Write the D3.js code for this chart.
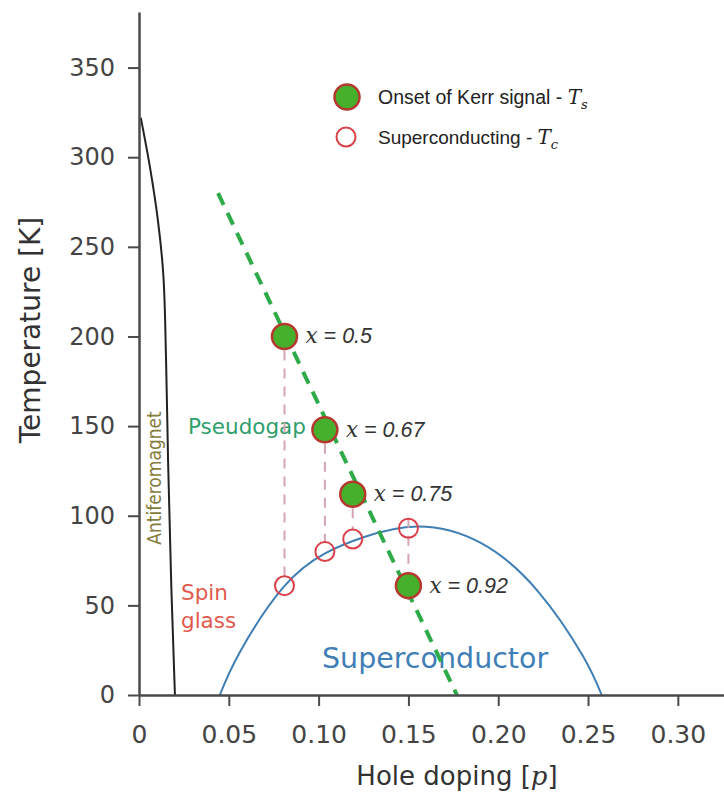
<!DOCTYPE html>
<html lang="en">
<head>
<meta charset="UTF-8">
<title>Phase diagram - Kerr onset</title>
<style>
  html, body { margin: 0; padding: 0; background: #fff; }
  svg { display: block; }
  .tick text { font-family: "DejaVu Sans", sans-serif; fill: #444; }
</style>
</head>
<body>
<svg id="chart" width="724" height="792"></svg>
<script src="https://d3js.org/d3.v7.min.js"></script>
<script>
// --- data ---
const dopingP   = [0.081, 0.1035, 0.119, 0.150];
const kerrT     = [200, 148, 112, 61];
const tcT       = [61, 80, 87, 93];
const xLabels   = ["0.5", "0.67", "0.75", "0.92"];

// superconducting dome (p, T)
const domeP = [0.045, 0.0562, 0.0803, 0.1036, 0.125, 0.155, 0.190, 0.222, 0.247, 0.2576];
const domeT = [0, 24, 60, 79, 88, 94, 85, 58, 22, 0];

// antiferromagnet boundary (p, T), top to bottom
const afmP = [0.001, 0.006, 0.0105, 0.0135, 0.0150, 0.0162, 0.0180, 0.020];
const afmT = [322, 295, 265, 235, 190, 130, 60, 0];

// pseudogap guide line (p, T)
const pgP = [0.044, 0.177];
const pgT = [280, 0];

const xTicks = [0, 0.05, 0.10, 0.15, 0.20, 0.25, 0.30];
const yTicks = [0, 50, 100, 150, 200, 250, 300, 350];

// --- layout ---
const svg = d3.select("#chart");
const x = d3.scaleLinear().domain([0, 0.3257]).range([139, 724]);
const y = d3.scaleLinear().domain([0, 381]).range([695, 12]);
const axisColor = "#4a4a4a";

const pts = (ps, ts) => ps.map((p, i) => [p, ts[i]]);

// dome
svg.append("path")
    .attr("d", d3.line().x(d => x(d[0])).y(d => y(d[1])).curve(d3.curveNatural)(pts(domeP, domeT)))
    .attr("fill", "none").attr("stroke", "#3f7fb6").attr("stroke-width", 2);

// antiferromagnet
svg.append("path")
    .attr("d", d3.line().x(d => x(d[0])).y(d => y(d[1])).curve(d3.curveMonotoneY)(pts(afmP, afmT)))
    .attr("fill", "none").attr("stroke", "#222").attr("stroke-width", 2);

// region labels
svg.append("text").attr("x", 322).attr("y", 668)
    .attr("font-family", "DejaVu Sans, sans-serif").attr("font-size", 28.5)
    .attr("fill", "#3f7fb6").text("Superconductor");

svg.append("text").attr("x", 188).attr("y", 434)
    .attr("font-family", "DejaVu Sans, sans-serif").attr("font-size", 21.5)
    .attr("fill", "#2f9e6c").text("Pseudogap");

const spin = svg.append("text").attr("font-family", "DejaVu Sans, sans-serif")
    .attr("font-size", 21.5).attr("fill", "#df5a4c");
spin.append("tspan").attr("x", 181).attr("y", 600).text("Spin");
spin.append("tspan").attr("x", 181).attr("y", 628).text("glass");

svg.append("text")
    .attr("transform", "translate(161,478) rotate(-90)")
    .attr("text-anchor", "middle")
    .attr("font-family", "DejaVu Sans Condensed, sans-serif").attr("font-size", 19)
    .attr("fill", "#857d3e").text("Antiferomagnet");

// pink dashed connectors between Ts and Tc
svg.selectAll(".conn")
    .data(dopingP)
    .join("line")
    .attr("class", "conn")
    .attr("x1", d => x(d)).attr("x2", d => x(d))
    .attr("y1", (d, i) => y(kerrT[i]) + 14)
    .attr("y2", (d, i) => y(tcT[i]) - 10)
    .attr("stroke", "#d6a5b3").attr("stroke-width", 2)
    .attr("stroke-dasharray", "10,8");

// pseudogap dashed line
svg.append("path")
    .attr("d", d3.line().x(d => x(d[0])).y(d => y(d[1]))(pts(pgP, pgT)))
    .attr("stroke", "#2eaa48").attr("stroke-width", 4)
    .attr("stroke-dasharray", "13,9").attr("fill", "none");

// Tc open circles
svg.selectAll(".tc")
    .data(dopingP)
    .join("circle")
    .attr("class", "tc")
    .attr("cx", d => x(d)).attr("cy", (d, i) => y(tcT[i]))
    .attr("r", 9.5)
    .attr("fill", "none").attr("stroke", "#d9414a").attr("stroke-width", 2);

// Ts filled circles
svg.selectAll(".ts")
    .data(dopingP)
    .join("circle")
    .attr("class", "ts")
    .attr("cx", d => x(d)).attr("cy", (d, i) => y(kerrT[i]))
    .attr("r", 12.5)
    .attr("fill", "#46b02c").attr("stroke", "#b5382e").attr("stroke-width", 2.5);

// point labels
const pl = svg.selectAll(".plab")
    .data(dopingP)
    .join("text")
    .attr("class", "plab")
    .attr("x", d => x(d) + 21)
    .attr("y", (d, i) => y(kerrT[i]) + 7)
    .attr("font-size", 21.5).attr("fill", "#333");
pl.append("tspan").attr("font-family", "DejaVu Serif, serif").attr("font-style", "italic").text("x");
pl.append("tspan").attr("font-family", "Liberation Sans, Arial, sans-serif").attr("font-style", "italic")
    .text((d, i) => " = " + xLabels[i]);

// legend
svg.append("circle").attr("cx", 347).attr("cy", 97).attr("r", 12.5)
    .attr("fill", "#46b02c").attr("stroke", "#b5382e").attr("stroke-width", 2.5);
svg.append("circle").attr("cx", 346).attr("cy", 137).attr("r", 9.5)
    .attr("fill", "none").attr("stroke", "#d9414a").attr("stroke-width", 2);

const l1 = svg.append("text").attr("x", 378).attr("y", 104)
    .attr("font-family", "Liberation Sans, Arial, sans-serif").attr("font-size", 19.5).attr("fill", "#222");
l1.append("tspan").text("Onset of Kerr signal - ");
l1.append("tspan").attr("font-family", "DejaVu Serif, serif").attr("font-style", "italic").attr("font-size", 20).text("T");
l1.append("tspan").attr("font-family", "DejaVu Serif, serif").attr("font-style", "italic").attr("font-size", 13).attr("dy", 5).text("s");

const l2 = svg.append("text").attr("x", 378).attr("y", 144)
    .attr("font-family", "Liberation Sans, Arial, sans-serif").attr("font-size", 19).attr("fill", "#222");
l2.append("tspan").text("Superconducting - ");
l2.append("tspan").attr("font-family", "DejaVu Serif, serif").attr("font-style", "italic").attr("font-size", 20).text("T");
l2.append("tspan").attr("font-family", "DejaVu Serif, serif").attr("font-style", "italic").attr("font-size", 13).attr("dy", 5).text("c");

// --- axes ---
const gx = svg.append("g")
    .attr("transform", `translate(0,${y(0)})`)
    .call(d3.axisBottom(x).tickValues(xTicks).tickSize(11).tickSizeOuter(0).tickPadding(19)
        .tickFormat(d => d === 0 ? "0" : d3.format(".2f")(d)));
gx.selectAll("text").attr("font-size", 25);

const gy = svg.append("g")
    .attr("transform", `translate(${x(0)},0)`)
    .call(d3.axisLeft(y).tickValues(yTicks).tickSize(11).tickSizeOuter(0).tickPadding(13));
gy.selectAll("text").attr("font-size", 24);

[gx, gy].forEach(g => {
    g.select(".domain").attr("stroke", axisColor).attr("stroke-width", 2.5);
    g.selectAll(".tick line").attr("stroke", axisColor).attr("stroke-width", 2);
});

// axis titles
const xt = svg.append("text").attr("x", 457).attr("y", 785).attr("text-anchor", "middle")
    .attr("font-family", "DejaVu Sans, sans-serif").attr("font-size", 26).attr("fill", "#333");
xt.append("tspan").text("Hole doping [");
xt.append("tspan").attr("font-family", "DejaVu Serif, serif").attr("font-style", "italic").text("p");
xt.append("tspan").text("]");

svg.append("text")
    .attr("transform", "translate(40,330) rotate(-90)")
    .attr("text-anchor", "middle")
    .attr("font-family", "DejaVu Sans, sans-serif").attr("font-size", 28).attr("fill", "#333")
    .text("Temperature [K]");
</script>
</body>
</html>
